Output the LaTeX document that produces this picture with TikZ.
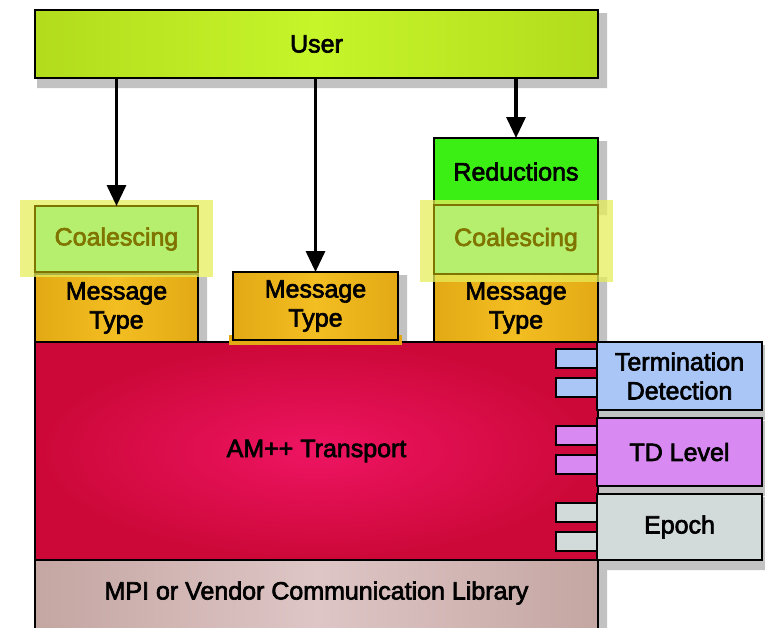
\documentclass[tikz,border=0pt]{standalone}
\usepackage{fontspec}
\setmainfont{Liberation Sans}[FakeBold=2.6]
\usetikzlibrary{arrows.meta,backgrounds,calc}

\definecolor{userlime}{HTML}{C6F52A}
\definecolor{userlimeedge}{HTML}{B2DC1C}
\definecolor{coalgreen}{HTML}{B6EE6E}
\definecolor{coalband}{HTML}{E6EE5A}
\definecolor{coaltext}{HTML}{807400}
\definecolor{msgorange}{HTML}{F3BE22}
\definecolor{msgedge}{HTML}{E2A914}
\definecolor{redgreen}{HTML}{3BEF14}
\definecolor{amcenter}{HTML}{EE1462}
\definecolor{amedge}{HTML}{CC0838}
\definecolor{mpicenter}{HTML}{DEC6C6}
\definecolor{mpiedge}{HTML}{C4A6A2}
\definecolor{tdblue}{HTML}{A9C6F6}
\definecolor{tdviolet}{HTML}{D98AF2}
\definecolor{epgray}{HTML}{D3DBDA}
\definecolor{shadowgray}{HTML}{9A9A9A}

\tikzset{
  box/.style={draw=black, line width=1.6pt, inner sep=0pt, outer sep=0pt,
    align=center, font=\fontsize{25}{29}\selectfont},
  msgbox/.style={box, left color=msgedge, right color=msgedge, middle color=msgorange},
  coalband/.style={fill=coalband, fill opacity=0.75, draw=none, inner sep=0pt, outer sep=0pt},
  coalbox/.style={draw=coaltext, line width=1.4pt, fill=coalgreen, inner sep=0pt,
    outer sep=0pt, text=coaltext, font=\fontsize{25}{29}\selectfont},
  tab/.style={draw=black, line width=1.3pt, inner sep=0pt, outer sep=0pt,
    minimum width=41pt, minimum height=19pt},
  flow/.style={line width=3.2pt, -{Triangle[length=21pt,width=19pt]}}
}

% soft shadow behind a named box, offset right and down
\newcommand{\castshadow}[1]{%
  \path let \p1 = (#1.north west), \p2 = (#1.south east) in
    [fill=shadowgray!35] (\x1+2pt,\y1-3pt) rectangle (\x2+9pt,\y2-10pt)
    [fill=shadowgray!60] (\x1+3pt,\y1-4pt) rectangle (\x2+6pt,\y2-7pt);
}

\begin{document}
\begin{tikzpicture}[x=1pt,y=-1pt]
\useasboundingbox (0,0) rectangle (765,627);

% bottom layer and transport layer
\node[box, minimum width=563pt, minimum height=80pt, left color=mpiedge,
  right color=mpiedge, middle color=mpicenter, anchor=north]
  (mpi) at (316.5,560) {};
\node[font=\fontsize{25}{29}\selectfont] (mpilabel) at (316.5,593)
  {MPI or Vendor Communication Library};
\node[box, minimum width=563pt, minimum height=218pt, inner color=amcenter,
  outer color=amedge] (am) at (316.5,451) {AM++ Transport};

% termination detection stack on the right
\node[box, minimum width=165pt, minimum height=68pt, fill=tdblue] (td)
  at (679.5,376) {Termination\\Detection};
\node[box, minimum width=165pt, minimum height=68pt, fill=tdviolet] (tdl)
  at (679.5,452) {TD Level};
\node[box, minimum width=165pt, minimum height=66pt, fill=epgray] (ep)
  at (679.5,527) {Epoch};

\node[tab, fill=tdblue] (tda) at (576.5,358.5) {};
\node[tab, fill=tdblue] (tdb) at (576.5,387.5) {};
\node[tab, fill=tdviolet] (tdla) at (576.5,435.5) {};
\node[tab, fill=tdviolet] (tdlb) at (576.5,464.5) {};
\node[tab, fill=epgray] (epa) at (576.5,512.5) {};
\node[tab, fill=epgray] (epb) at (576.5,541.5) {};

% user layer
\node[box, minimum width=563pt, minimum height=68pt, left color=userlimeedge,
  right color=userlimeedge, middle color=userlime] (user) at (316.5,44) {User};

% left column
\node[msgbox, minimum width=163pt, minimum height=68pt] (mt1)
  at (116.5,308) {Message\\Type};
\node[coalband, minimum width=193pt, minimum height=77pt] (cb1) at (116.5,238.5) {};
\node[coalbox, minimum width=163pt, minimum height=66pt] (coal1)
  at (116.5,239) {Coalescing};

% middle column
\node[fill=msgedge, inner sep=0pt, minimum width=173pt, minimum height=10pt]
  (mt2base) at (315.5,340) {};
\node[msgbox, minimum width=165pt, minimum height=68pt] (mt2)
  at (315.5,306) {Message\\Type};

% right column
\node[box, minimum width=164pt, minimum height=67pt, fill=redgreen] (red)
  at (516,171.5) {Reductions};
\node[msgbox, minimum width=164pt, minimum height=68pt] (mt3)
  at (516,308) {Message\\Type};
\node[coalband, minimum width=193pt, minimum height=82pt] (cb2) at (516.5,241) {};
\node[coalbox, minimum width=164pt, minimum height=69pt] (coal2)
  at (516,239.5) {Coalescing};

% calls from the user layer
\draw[flow] (user.south -| coal1.north) -- (coal1.north);
\draw[flow] (user.south -| mt2.north) -- (mt2.north);
\draw[flow] (user.south -| red.north) -- (red.north);

% shadows behind everything
\begin{pgfonlayer}{background}
  \castshadow{user}
  \castshadow{mt1}
  \castshadow{mt2}
  \castshadow{mt3}
  \castshadow{red}
  \castshadow{mpi}
  \castshadow{td}
  \castshadow{tdl}
  \castshadow{ep}
\end{pgfonlayer}
\end{tikzpicture}
\end{document}
